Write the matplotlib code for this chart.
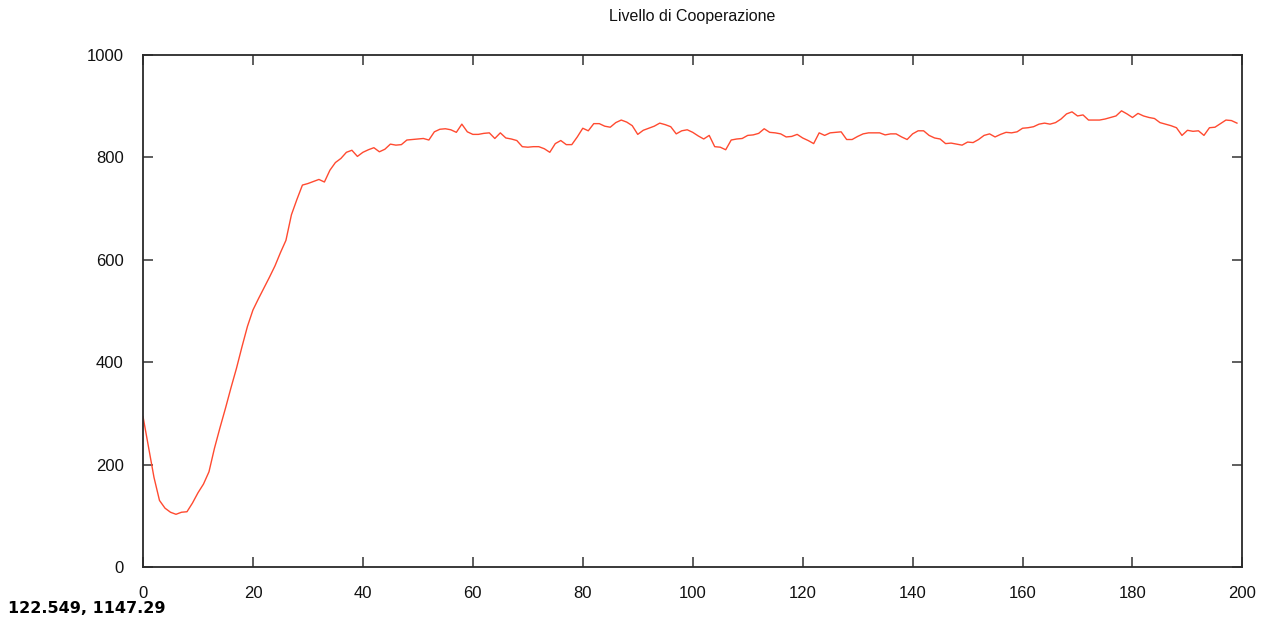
import numpy as np
import matplotlib.pyplot as plt

# Cooperation level per generation
cooperazione = [
    294, 235, 175, 130, 115, 107, 103, 107, 108, 125,
    145, 162, 186, 232, 272, 310, 350, 388, 430, 470,
    502, 524, 545, 566, 588, 614, 638, 688, 718, 746,
    749, 753, 757, 752, 775, 790, 798, 810, 814, 802,
    810, 815, 819, 811, 816, 826, 824, 825, 834, 835,
    836, 837, 834, 850, 855, 856, 854, 849, 865, 850,
    845, 845, 847, 848, 837, 848, 838, 836, 833, 821,
    820, 821, 821, 817, 810, 827, 833, 825, 825, 840,
    857, 852, 866, 866, 861, 859, 868, 873, 869, 862,
    845, 853, 857, 861, 867, 864, 860, 846, 852, 854,
    849, 842, 836, 843, 821, 820, 815, 834, 836, 837,
    843, 844, 847, 856, 849, 848, 846, 840, 841, 845,
    838, 833, 827, 848, 843, 848, 849, 850, 835, 835,
    841, 846, 848, 848, 848, 844, 846, 846, 840, 835,
    846, 852, 852, 843, 838, 836, 827, 828, 826, 824,
    830, 829, 835, 843, 846, 840, 845, 849, 848, 850,
    857, 858, 860, 865, 867, 865, 868, 875, 885, 889,
    881, 883, 873, 873, 873, 875, 878, 881, 891, 885,
    878, 886, 881, 878, 876, 868, 865, 862, 858, 843,
    853, 851, 852, 843, 858, 859, 866, 873, 872, 867,
]
generazioni = np.arange(len(cooperazione))

x_ticks = list(range(0, 201, 20))
y_ticks = list(range(0, 1001, 200))

plt.rcParams['font.family'] = ['Liberation Sans', 'DejaVu Sans']

fig = plt.figure(figsize=(12.7, 6.26), dpi=100)
ax = fig.add_axes([0.1126, 0.0942, 0.8657, 0.8179])

ax.plot(generazioni, cooperazione, color='#ff4a30', linewidth=1.0)

ax.set_xlim(0, 200)
ax.set_ylim(0, 1000)
ax.set_xticks(x_ticks)
ax.set_yticks(y_ticks)

for s in ax.spines.values():
    s.set_color('#2a2a2a')
    s.set_linewidth(1.3)

ax.tick_params(direction='in', length=7, width=1.1, color='#333333',
               top=True, right=True, labelsize=12, labelcolor='#111111')
ax.tick_params(axis='x', pad=14)
ax.tick_params(axis='y', pad=14)

fig.text(0.545, 0.974, 'Livello di Cooperazione', ha='center', va='center',
         fontsize=11.5, color='#111111')
fig.text(0.006, 0.028, '122.549, 1147.29', ha='left', va='center',
         fontsize=11.5, fontweight='bold', color='#000000',
         family='DejaVu Sans')

fig.savefig('out.png', dpi=100)
